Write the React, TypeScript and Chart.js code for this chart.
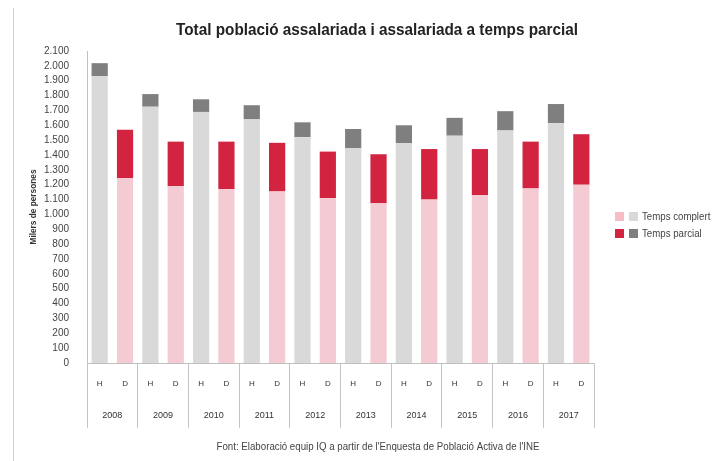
import React, { useEffect, useRef } from 'react';
import { Chart, registerables } from 'chart.js';

Chart.register(...registerables);

const years = ['2008', '2009', '2010', '2011', '2012', '2013', '2014', '2015', '2016', '2017'];
const sexes = ['H', 'D'];
const homesComplert = [1930, 1725, 1690, 1640, 1520, 1445, 1480, 1530, 1565, 1615];
const homesParcial = [88, 85, 85, 95, 100, 130, 120, 120, 130, 128];
const donesComplert = [1245, 1190, 1170, 1155, 1110, 1075, 1100, 1130, 1175, 1200];
const donesParcial = [325, 300, 320, 327, 313, 330, 340, 310, 315, 340];
const yMax = 2100;
const yStep = 100;

const titleText = 'Total població assalariada i assalariada a temps parcial';
const yTitleText = 'Milers de persones';
const footText = "Font: Elaboració equip IQ a partir de l'Enquesta de Població Activa de l'INE";
const legendLabels = ['Temps complert', 'Temps parcial'];

const FONT = "'Liberation Sans', Arial, sans-serif";

const GRAY_LIGHT = '#d9d9d9';
const GRAY_DARK = '#7f7f7f';
const PINK = '#f5cbd3';
const RED = '#d22440';

const labels: string[] = [];
const complert: number[] = [];
const parcial: number[] = [];
const complertColors: string[] = [];
const parcialColors: string[] = [];
years.forEach((y, i) => {
  sexes.forEach((s) => {
    labels.push(s);
    if (s === 'H') {
      complert.push(homesComplert[i]);
      parcial.push(homesParcial[i]);
      complertColors.push(GRAY_LIGHT);
      parcialColors.push(GRAY_DARK);
    } else {
      complert.push(donesComplert[i]);
      parcial.push(donesParcial[i]);
      complertColors.push(PINK);
      parcialColors.push(RED);
    }
  });
});

const fmt = (v: number) => String(v).replace(/\B(?=(\d{3})+(?!\d))/g, '.');

// draw text horizontally condensed (to mimic a narrow font)
const drawCondensed = (ctx: any, text: string, x: number, y: number, sx: number) => {
  ctx.save();
  ctx.translate(x, y);
  ctx.scale(sx, 1);
  ctx.fillText(text, 0, 0);
  ctx.restore();
};

const decorations = {
  id: 'decorations',
  afterDraw(chart: any) {
    const ctx = chart.ctx;
    ctx.save();
    // left frame line
    ctx.strokeStyle = '#d0d0d0';
    ctx.lineWidth = 1;
    ctx.beginPath();
    ctx.moveTo(13.5, 8);
    ctx.lineTo(13.5, 461);
    ctx.stroke();

    // title
    ctx.fillStyle = '#222';
    ctx.font = `bold 17px ${FONT}`;
    ctx.textAlign = 'center';
    ctx.textBaseline = 'middle';
    drawCondensed(ctx, titleText, 377, 30, 0.9);

    // y title
    ctx.save();
    ctx.translate(34, 207);
    ctx.rotate(-Math.PI / 2);
    ctx.font = `bold 9px ${FONT}`;
    ctx.fillStyle = '#333';
    drawCondensed(ctx, yTitleText, 0, 0, 0.92);
    ctx.restore();

    // legend
    const rows = [
      { y: 216.5, c1: '#f6bcc8', c2: GRAY_LIGHT },
      { y: 233.5, c1: RED, c2: GRAY_DARK },
    ];
    ctx.font = `11px ${FONT}`;
    ctx.textAlign = 'left';
    rows.forEach((r, i) => {
      ctx.fillStyle = r.c1;
      ctx.fillRect(615, r.y - 4.5, 9, 9);
      ctx.fillStyle = r.c2;
      ctx.fillRect(629, r.y - 4.5, 9, 9);
      ctx.fillStyle = '#444';
      drawCondensed(ctx, legendLabels[i], 642, r.y, 0.88);
    });

    // footnote
    ctx.font = `10px ${FONT}`;
    ctx.textAlign = 'center';
    ctx.fillStyle = '#444';
    drawCondensed(ctx, footText, 378, 447, 0.97);
    ctx.restore();
  },
};

export default function App() {
  const ref = useRef<HTMLCanvasElement>(null);
  useEffect(() => {
    if (!ref.current) return;
    const chart = new Chart(ref.current, {
      type: 'bar',
      data: {
        labels,
        datasets: [
          {
            label: legendLabels[0],
            data: complert,
            backgroundColor: complertColors,
            borderWidth: 0,
            categoryPercentage: 1,
            barPercentage: 0.64,
          },
          {
            label: legendLabels[1],
            data: parcial,
            backgroundColor: parcialColors,
            borderWidth: 0,
            categoryPercentage: 1,
            barPercentage: 0.64,
          },
        ],
      },
      options: {
        responsive: false,
        animation: false,
        events: [],
        layout: { padding: { top: 51, left: 0, right: 124, bottom: 33 } },
        plugins: {
          legend: { display: false },
          title: { display: false },
          tooltip: { enabled: false },
        },
        scales: {
          y: {
            stacked: true,
            min: 0,
            max: yMax,
            grid: { display: false },
            border: { display: true, color: '#bfbfbf' },
            ticks: {
              stepSize: yStep,
              autoSkip: false,
              padding: 10,
              color: '#444',
              font: { size: 10, family: FONT },
              callback: (v: any) => fmt(Number(v)),
            },
            afterFit: (s: any) => {
              s.width = 87;
            },
          },
          x: {
            type: 'category',
            stacked: true,
            offset: true,
            weight: 0,
            grid: {
              display: true,
              drawOnChartArea: false,
              drawTicks: true,
              tickLength: 65,
              offset: true,
              color: (c: any) =>
                c.index === undefined || c.index % 2 === 0 ? '#c4c4c4' : 'rgba(0,0,0,0)',
            },
            border: { display: true, color: '#bfbfbf' },
            ticks: {
              padding: -49,
              maxRotation: 0,
              autoSkip: false,
              color: '#333',
              font: { size: 8, family: FONT },
            },
            afterFit: (s: any) => {
              s.height = 33;
            },
          },
          x2: {
            type: 'category',
            labels: years,
            position: 'bottom',
            offset: true,
            weight: 1,
            grid: { display: false },
            border: { display: false },
            ticks: {
              padding: 6,
              maxRotation: 0,
              autoSkip: false,
              color: '#333',
              font: { size: 9, family: FONT },
            },
            afterFit: (s: any) => {
              s.height = 32;
            },
          },
        },
      } as any,
      plugins: [decorations],
    });
    return () => chart.destroy();
  }, []);
  return (
    <div style={{ position: 'fixed', left: 0, top: 0, width: 718, height: 461, background: '#fff' }}>
      <canvas ref={ref} width={718} height={461} />
    </div>
  );
}
